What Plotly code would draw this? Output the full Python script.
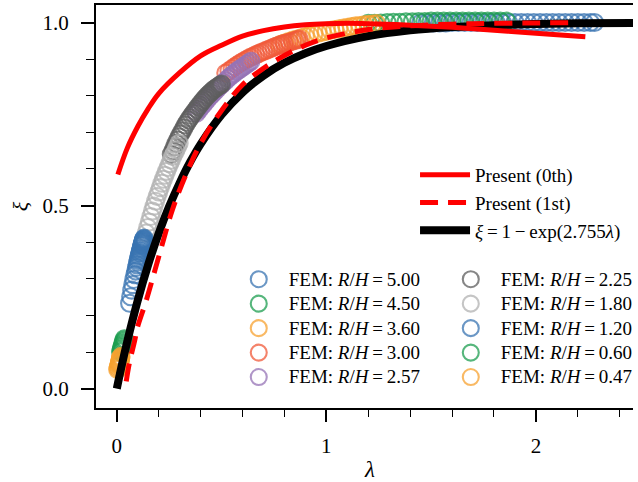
import plotly.graph_objects as go

# ---------------- data ----------------
lam_black = [0.0, 0.02, 0.05, 0.1, 0.15, 0.2, 0.25, 0.3, 0.35, 0.4, 0.5, 0.6, 0.7, 0.8, 0.9, 1.0,
             1.2, 1.4, 1.6, 1.8, 2.0, 2.2, 2.5]
xi_black = [0.0, 0.054, 0.129, 0.241, 0.339, 0.424, 0.498, 0.562, 0.619, 0.668, 0.748, 0.809,
            0.855, 0.890, 0.916, 0.936, 0.963, 0.979, 0.988, 0.993, 0.996, 0.998, 0.999]

lam_p0 = [0.005, 0.05, 0.1, 0.15, 0.2, 0.3, 0.4, 0.5, 0.6, 0.7, 0.8, 0.9, 1.0, 1.1, 1.2, 1.4,
          1.6, 1.8, 2.0, 2.236]
xi_p0 = [0.585, 0.657, 0.716, 0.765, 0.806, 0.863, 0.909, 0.938, 0.963, 0.978, 0.988, 0.994,
         0.997, 0.998, 0.997, 0.993, 0.987, 0.979, 0.971, 0.961]

lam_p1 = [0.045, 0.06, 0.085, 0.1, 0.14, 0.2, 0.265, 0.33, 0.4, 0.5, 0.6, 0.7, 0.8, 0.9, 1.0,
          1.2, 1.4, 1.7, 2.0, 2.19]
xi_p1 = [0.02, 0.07, 0.13, 0.17, 0.24, 0.36, 0.488, 0.585, 0.67, 0.76, 0.83, 0.875, 0.91,
         0.938, 0.958, 0.981, 0.991, 0.997, 0.999, 1.0]

rh_labels = ["5.00", "4.50", "3.60", "3.00", "2.57", "2.25", "1.80", "1.20", "0.60", "0.47"]

fem_500_x = [1.45, 1.48, 1.51, 1.54, 1.57, 1.60, 1.63, 1.66, 1.69, 1.72, 1.75, 1.78, 1.81, 1.84,
             1.87, 1.90, 1.93, 1.96, 1.99, 2.02, 2.05, 2.08, 2.11, 2.14, 2.17, 2.20, 2.23, 2.26,
             2.28]
fem_500_y = [0.999, 0.999, 0.999, 0.999, 0.999, 1.000, 1.000, 1.000, 1.000, 1.000, 1.000, 1.000,
             1.000, 1.000, 1.000, 1.000, 1.000, 1.000, 1.000, 1.000, 1.000, 1.000, 1.000, 1.000,
             1.000, 1.000, 1.000, 1.000, 1.000]

fem_450_x = [1.20, 1.23, 1.26, 1.29, 1.32, 1.35, 1.38, 1.41, 1.44, 1.47, 1.50, 1.53, 1.56, 1.59,
             1.62, 1.65, 1.68, 1.71, 1.74, 1.77, 1.80, 1.83, 1.86]
fem_450_y = [0.998, 0.998, 0.999, 1.000, 1.001, 1.001, 1.002, 1.002, 1.003, 1.003, 1.004, 1.004,
             1.004, 1.004, 1.004, 1.004, 1.004, 1.004, 1.004, 1.004, 1.004, 1.004, 1.004]

fem_360_x = [0.78, 0.80, 0.82, 0.84, 0.86, 0.88, 0.90, 0.92, 0.94, 0.96, 0.98, 1.00, 1.02, 1.04,
             1.06, 1.08, 1.10, 1.12, 1.14, 1.16, 1.18, 1.20, 1.22, 1.24]
fem_360_y = [0.940, 0.944, 0.948, 0.952, 0.955, 0.9585, 0.962, 0.965, 0.968, 0.971, 0.974,
             0.976, 0.979, 0.981, 0.983, 0.985, 0.987, 0.989, 0.991, 0.992, 0.994, 0.995, 0.996,
             0.997]

fem_300_x = [0.52, 0.535, 0.55, 0.5625, 0.575, 0.5875, 0.60, 0.6125, 0.625, 0.6375, 0.65, 0.6625,
             0.675, 0.6875, 0.70, 0.7125, 0.725, 0.7375, 0.75, 0.7625, 0.775, 0.7875, 0.80,
             0.8125, 0.825, 0.8375, 0.85, 0.86, 0.87]
fem_300_y = [0.862, 0.868, 0.874, 0.879, 0.884, 0.889, 0.893, 0.897, 0.901, 0.905, 0.908, 0.912,
             0.915, 0.918, 0.921, 0.924, 0.927, 0.930, 0.933, 0.936, 0.938, 0.941, 0.943, 0.945,
             0.947, 0.949, 0.951, 0.953, 0.955]

fem_257_x = [0.38, 0.39, 0.40, 0.41, 0.42, 0.43, 0.44, 0.45, 0.46, 0.47, 0.48, 0.49, 0.50, 0.51,
             0.52, 0.53, 0.54, 0.55, 0.56, 0.57, 0.58, 0.59, 0.60, 0.61, 0.62, 0.63, 0.64]
fem_257_y = [0.752, 0.760, 0.767, 0.774, 0.781, 0.788, 0.795, 0.801, 0.807, 0.813, 0.819, 0.825,
             0.830, 0.836, 0.841, 0.847, 0.852, 0.857, 0.861, 0.866, 0.870, 0.874, 0.878, 0.882,
             0.886, 0.890, 0.894]

fem_225_x = [0.26, 0.2675, 0.275, 0.2825, 0.29, 0.2975, 0.305, 0.3125, 0.32, 0.3275, 0.335,
             0.3425, 0.35, 0.3575, 0.365, 0.3725, 0.38, 0.3875, 0.395, 0.4025, 0.41, 0.4175,
             0.425, 0.4325, 0.44, 0.4475, 0.455, 0.4625, 0.47, 0.4775, 0.485, 0.4925, 0.50]
fem_225_y = [0.640, 0.650, 0.660, 0.670, 0.679, 0.688, 0.696, 0.704, 0.712, 0.720, 0.727, 0.734,
             0.740, 0.746, 0.752, 0.758, 0.764, 0.770, 0.775, 0.781, 0.786, 0.791, 0.796, 0.801,
             0.805, 0.809, 0.813, 0.817, 0.820, 0.823, 0.826, 0.829, 0.832]

fem_180_x = [0.14, 0.1475, 0.155, 0.1625, 0.17, 0.1775, 0.185, 0.1925, 0.20, 0.2075, 0.215,
             0.2225, 0.23, 0.2375, 0.245, 0.2525, 0.26, 0.2675, 0.275, 0.2825, 0.29, 0.2975]
fem_180_y = [0.425, 0.440, 0.455, 0.470, 0.485, 0.4985, 0.512, 0.525, 0.537, 0.549, 0.561,
             0.572, 0.583, 0.5935, 0.604, 0.6145, 0.624, 0.634, 0.643, 0.652, 0.661, 0.670]

fem_120_x = [0.061, 0.066, 0.071, 0.076, 0.081, 0.086, 0.090, 0.094, 0.097, 0.100, 0.102, 0.104,
             0.106, 0.108, 0.110, 0.111, 0.113, 0.114, 0.116, 0.117, 0.119, 0.120, 0.121, 0.122,
             0.123, 0.124, 0.125, 0.126, 0.127, 0.128, 0.129, 0.130]
fem_120_y = [0.233, 0.251, 0.269, 0.284, 0.298, 0.311, 0.321, 0.331, 0.338, 0.345, 0.350, 0.355,
             0.360, 0.364, 0.369, 0.371, 0.375, 0.378, 0.382, 0.385, 0.389, 0.391, 0.393, 0.395,
             0.397, 0.399, 0.401, 0.403, 0.405, 0.407, 0.409, 0.411]

fem_060_x = [0.018, 0.020, 0.022, 0.024, 0.026, 0.028, 0.030, 0.032, 0.034, 0.036]
fem_060_y = [0.100, 0.104, 0.108, 0.112, 0.116, 0.120, 0.124, 0.128, 0.132, 0.136]

fem_047_x = [0.004, 0.006, 0.008, 0.010, 0.011, 0.012, 0.013, 0.014, 0.015, 0.016, 0.017, 0.018,
             0.019, 0.020]
fem_047_y = [0.052, 0.056, 0.060, 0.063, 0.066, 0.068, 0.070, 0.072, 0.075, 0.077, 0.080, 0.082,
             0.085, 0.088]

fem_xs = [fem_500_x, fem_450_x, fem_360_x, fem_300_x, fem_257_x,
          fem_225_x, fem_180_x, fem_120_x, fem_060_x, fem_047_x]
fem_ys = [fem_500_y, fem_450_y, fem_360_y, fem_300_y, fem_257_y,
          fem_225_y, fem_180_y, fem_120_y, fem_060_y, fem_047_y]
fem_colors = ["#3a74b2", "#1d9e50", "#f7a230", "#f05a3a", "#9573b6",
              "#5e5e5e", "#b2b2b2", "#3a74b2", "#1d9e50", "#f7a230"]

# ---------------- layout geometry ----------------
W, H = 638, 482
L, R, T, B = 96, 638, 5, 408
X_RANGE = [-0.0993, 2.4634]
Y_RANGE = [-0.053, 1.048]
FONT = "Liberation Serif, Times New Roman, serif"


def px_x(p):
    return (p - L) / (R - L)


def px_y(p):
    return (B - p) / (B - T)


def big(s):
    return '<span style="font-size:19px">' + s + '</span>'


fig = go.Figure()

for i, (lab, xs, ys, col) in enumerate(zip(rh_labels, fem_xs, fem_ys, fem_colors)):
    fig.add_trace(go.Scatter(
        x=xs, y=ys, mode="markers",
        name=big("FEM: <i>R</i>/<i>H</i>\u2009=\u2009" + lab),
        marker=dict(symbol="circle-open", size=17, color=col, opacity=0.75,
                    line=dict(width=2.1)),
        legend="legend2" if i < 5 else "legend3",
        legendrank=i + 1,
    ))

fig.add_trace(go.Scatter(
    x=lam_black, y=xi_black, mode="lines", line_shape="spline",
    name="<i>ξ</i>\u2009=\u20091\u2009\u2212\u2009exp(2.755<i>λ</i>)",
    line=dict(color="black", width=8), legend="legend", legendrank=3))
fig.add_trace(go.Scatter(
    x=lam_p0, y=xi_p0, mode="lines", line_shape="spline",
    name="Present (0th)",
    line=dict(color="#ff0000", width=5), legend="legend", legendrank=1))
fig.add_trace(go.Scatter(
    x=lam_p1, y=xi_p1, mode="lines", line_shape="spline",
    name="Present (1st)",
    line=dict(color="#ff0000", width=5, dash="18px,10px"), legend="legend", legendrank=2))

leg_common = dict(bgcolor="rgba(0,0,0,0)", borderwidth=0, itemwidth=50,
                  xanchor="left", yanchor="top", tracegroupgap=0)

fig.update_layout(
    width=W, height=H,
    margin=dict(l=L, r=W - R, t=T, b=H - B, pad=0),
    paper_bgcolor="white", plot_bgcolor="white",
    font=dict(family=FONT, size=21, color="black"),
    showlegend=True,
    legend=dict(x=px_x(418), y=px_y(156), font=dict(family=FONT, size=19, color="black"),
                **leg_common),
    legend2=dict(x=px_x(230), y=px_y(262), font=dict(family=FONT, size=16.5, color="black"),
                 **leg_common),
    legend3=dict(x=px_x(444), y=px_y(262), font=dict(family=FONT, size=16.5, color="black"),
                 **leg_common),
    xaxis=dict(range=X_RANGE, showgrid=False, zeroline=False,
               showline=True, linecolor="black", linewidth=2, mirror=True,
               ticks="outside", ticklen=12, tickwidth=1.5, tickcolor="black",
               tickvals=[0, 1, 2], ticktext=["0", "1", "2"], ticklabelstandoff=6,
               tickfont=dict(family=FONT, size=21),
               minor=dict(ticks="outside", ticklen=7, tickwidth=1.2, tickcolor="black",
                          dtick=0.2, tick0=0, showgrid=False)),
    yaxis=dict(range=Y_RANGE, showgrid=False, zeroline=False,
               showline=True, linecolor="black", linewidth=2, mirror=False,
               ticks="outside", ticklen=13, tickwidth=1.5, tickcolor="black",
               tickvals=[0, 0.5, 1.0], ticktext=["0.0", "0.5", "1.0"], ticklabelstandoff=8,
               tickfont=dict(family=FONT, size=21),
               title=dict(text="<i>ξ</i>", font=dict(family=FONT, size=22), standoff=8),
               minor=dict(ticks="outside", ticklen=8, tickwidth=1.2, tickcolor="black",
                          dtick=0.1, tick0=0, showgrid=False)),
    annotations=[dict(text="<i>λ</i>", xref="paper", yref="paper",
                      x=px_x(372), y=px_y(470), showarrow=False,
                      font=dict(family=FONT, size=23), xanchor="center", yanchor="middle")],
)

fig.write_html("out.html")
